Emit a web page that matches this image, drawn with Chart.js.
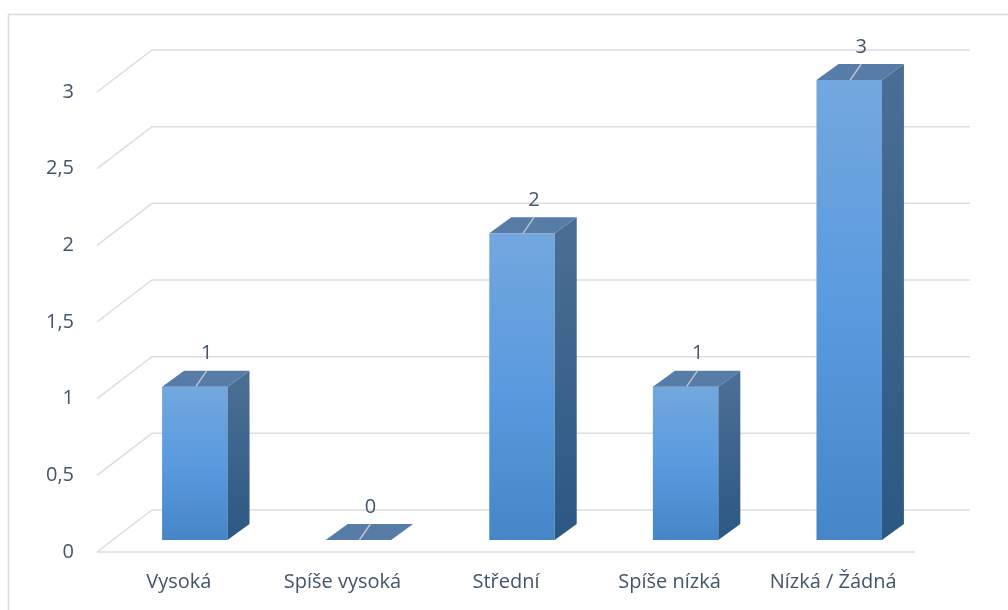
<!DOCTYPE html>
<html lang="cs">
<head>
<meta charset="utf-8">
<script src="https://cdn.jsdelivr.net/npm/chart.js@4.4.1/dist/chart.umd.min.js"></script>
<style>
  html, body { margin: 0; padding: 0; background: #fff; }
  canvas { display: block; }
</style>
</head>
<body>
<canvas id="graf" width="1008" height="610"></canvas>
<script>
// Data z grafu
const kategorie = ['Vysoká', 'Spíše vysoká', 'Střední', 'Spíše nízká', 'Nízká / Žádná'];
const hodnoty = [1, 0, 2, 1, 3];
const osaY = [0, 0.5, 1, 1.5, 2, 2.5, 3];

const PISMO = '"Open Sans", sans-serif';
const BARVA_TEXTU = '#44546a';
const BARVA_MRIZKY = '#d9dde4';

// posuny pro pseudo 3D (zadni stena, umisteni sloupce, hloubka sloupce)
const STENA = { dx: 55, dy: -42 };
const POSUN = { dx: 16, dy: -12 };
const HLOUBKA = { dx: 22, dy: -16 };

function mnohouhelnik(ctx, body, barva) {
  ctx.beginPath();
  ctx.moveTo(body[0][0], body[0][1]);
  for (let i = 1; i < body.length; i++) ctx.lineTo(body[i][0], body[i][1]);
  ctx.closePath();
  ctx.fillStyle = barva;
  ctx.fill();
}

const prostor3d = {
  id: 'prostor3d',
  beforeDatasetsDraw(chart) {
    const ctx = chart.ctx;
    const { left, right } = chart.chartArea;
    const y = chart.scales.y;

    ctx.save();
    // ramecek grafu
    ctx.strokeStyle = '#d9dce1';
    ctx.lineWidth = 1.5;
    ctx.beginPath();
    ctx.moveTo(8.5, 620);
    ctx.lineTo(8.5, 14.5);
    ctx.lineTo(1020, 14.5);
    ctx.stroke();

    // mrizka: leva stena + zadni stena
    ctx.strokeStyle = BARVA_MRIZKY;
    ctx.lineWidth = 1.5;
    osaY.forEach(v => {
      const py = y.getPixelForValue(v);
      ctx.beginPath();
      ctx.moveTo(left, py);
      ctx.lineTo(left + STENA.dx, py + STENA.dy);
      ctx.lineTo(right + STENA.dx, py + STENA.dy);
      ctx.stroke();
    });
    // predni hrana podlahy
    const p0 = y.getPixelForValue(0);
    ctx.beginPath();
    ctx.moveTo(left, p0);
    ctx.lineTo(right, p0);
    ctx.stroke();
    ctx.restore();
  },
  afterDatasetsDraw(chart) {
    const ctx = chart.ctx;
    const meta = chart.getDatasetMeta(0);
    ctx.save();
    meta.data.forEach((bar, i) => {
      const { x, y, base, width } = bar.getProps(['x', 'y', 'base', 'width'], true);
      const l = x - width / 2 + POSUN.dx;
      const r = x + width / 2 + POSUN.dx;
      const top = y + POSUN.dy;
      const bot = base + POSUN.dy;

      if (bot - top > 0.5) {
        // predni stena
        const gp = ctx.createLinearGradient(0, top, 0, bot);
        gp.addColorStop(0, '#72a8de');
        gp.addColorStop(0.5, '#5a9ade');
        gp.addColorStop(1, '#4586c8');
        ctx.fillStyle = gp;
        ctx.fillRect(l, top, r - l, bot - top);

        // bocni stena
        const gb = ctx.createLinearGradient(0, top, 0, bot);
        gb.addColorStop(0, '#4a6d94');
        gb.addColorStop(1, '#2b5883');
        mnohouhelnik(ctx, [
          [r, top], [r + HLOUBKA.dx, top + HLOUBKA.dy],
          [r + HLOUBKA.dx, bot + HLOUBKA.dy], [r, bot]
        ], gb);
      }

      // horni plocha
      mnohouhelnik(ctx, [
        [l, top], [l + HLOUBKA.dx, top + HLOUBKA.dy],
        [r + HLOUBKA.dx, top + HLOUBKA.dy], [r, top]
      ], '#587ca8');

      // vodici cara a popisek hodnoty
      const cx = (l + r) / 2;
      ctx.strokeStyle = '#b9c2cf';
      ctx.lineWidth = 1.5;
      ctx.beginPath();
      ctx.moveTo(cx + 1, top);
      ctx.lineTo(cx + 12, top + HLOUBKA.dy);
      ctx.stroke();

      ctx.fillStyle = BARVA_TEXTU;
      ctx.font = '20px ' + PISMO;
      ctx.textAlign = 'center';
      ctx.textBaseline = 'middle';
      ctx.fillText(String(hodnoty[i]), cx + 12, top + HLOUBKA.dy - 17);
    });
    ctx.restore();
  }
};

new Chart(document.getElementById('graf'), {
  type: 'bar',
  data: {
    labels: kategorie,
    datasets: [{
      data: hodnoty,
      backgroundColor: 'rgba(0,0,0,0)',
      borderWidth: 0,
      categoryPercentage: 0.4,
      barPercentage: 1
    }]
  },
  options: {
    responsive: false,
    devicePixelRatio: 1,
    animation: false,
    layout: { padding: { top: 92, right: 93, left: 0, bottom: 0 } },
    plugins: { legend: { display: false }, tooltip: { enabled: false } },
    scales: {
      x: {
        grid: { display: false, drawTicks: false },
        border: { display: false },
        ticks: { color: BARVA_TEXTU, font: { family: PISMO, size: 20 }, padding: 18, maxRotation: 0 },
        afterFit(scale) { scale.height = 58; }
      },
      y: {
        min: 0,
        max: 3,
        grid: { display: false, drawTicks: false },
        border: { display: false },
        ticks: {
          stepSize: 0.5,
          color: BARVA_TEXTU,
          font: { family: PISMO, size: 20 },
          padding: 23,
          callback: v => String(v).replace('.', ',')
        },
        afterFit(scale) { scale.width = 97; }
      }
    }
  },
  plugins: [prostor3d]
});
</script>
</body>
</html>
